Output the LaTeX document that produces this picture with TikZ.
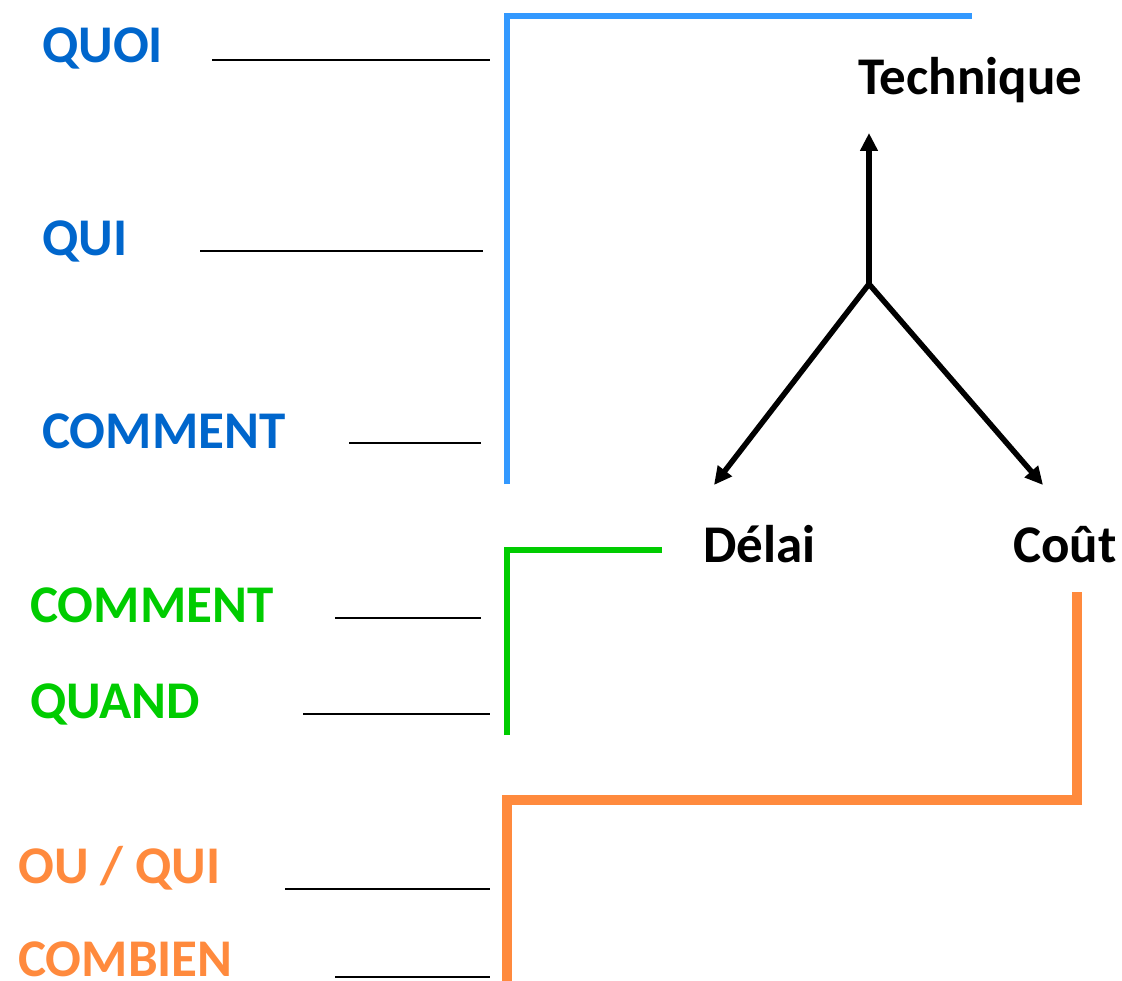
\documentclass[tikz,border=0pt]{standalone}
\usepackage{fontspec}
\setmainfont{Carlito}
\usetikzlibrary{arrows.meta}
\definecolor{qblue}{HTML}{0066CC}
\definecolor{bblue}{HTML}{3399FF}
\definecolor{qgreen}{HTML}{00CC00}
\definecolor{qorange}{HTML}{FF8A3D}
\tikzset{
  lbl/.style={anchor=base west, inner sep=0pt, font=\fontsize{53}{60}\selectfont\bfseries},
  rule/.style={draw=black, line width=1.6pt},
  bracket/.style={line width=#1, line join=miter, line cap=butt},
  axis/.style={line width=5.5pt, -{Triangle[length=18pt,width=17pt]}}
}
\begin{document}
\begin{tikzpicture}[x=1pt,y=-1pt]
\useasboundingbox (0,0) rectangle (1122,981);

% question labels
\node[lbl, text=qblue] (quoi) at (42,63) {QUOI};
\node[lbl, text=qblue] (qui) at (42,256) {QUI};
\node[lbl, text=qblue] (comment1) at (42,448) {COMMENT};
\node[lbl, text=qgreen] (comment2) at (30,622) {COMMENT};
\node[lbl, text=qgreen] (quand) at (30,718) {QUAND};
\node[lbl, text=qorange] (ouqui) at (18,883) {OU / QUI};
\node[lbl, text=qorange, text depth=0pt] (combien) at (18,976) {COMBIEN};

% answer rules
\draw[rule] (212,60) -- (490,60);
\draw[rule] (200,251) -- (483,251);
\draw[rule] (349,443) -- (481,443);
\draw[rule] (335,618) -- (481,618);
\draw[rule] (303,714) -- (490,714);
\draw[rule] (285,889) -- (490,889);
\draw[rule] (335,977) -- (490,977);

% brackets
\draw[bracket=6.5pt, bblue] (507,484) -- (507,16) -- (972,16);
\draw[bracket=6.5pt, qgreen] (507,735) -- (507,550) -- (662,550);
\draw[bracket=10.5pt, qorange] (1077,592) -- (1077,800) -- (507,800) -- (507,981);

% project triangle
\node[lbl] (tech) at (858,95) {Technique};
\node[lbl] (delai) at (703,562) {Délai};
\node[lbl] (cout) at (1013,562) {Coût};
\coordinate (hub) at (869,284);
\coordinate (tup) at (869,133);
\coordinate (tleft) at (714,485);
\coordinate (tright) at (1043,485);
\draw[axis] (hub) -- (tup);
\draw[axis] (hub) -- (tleft);
\draw[axis] (hub) -- (tright);
\end{tikzpicture}
\end{document}
